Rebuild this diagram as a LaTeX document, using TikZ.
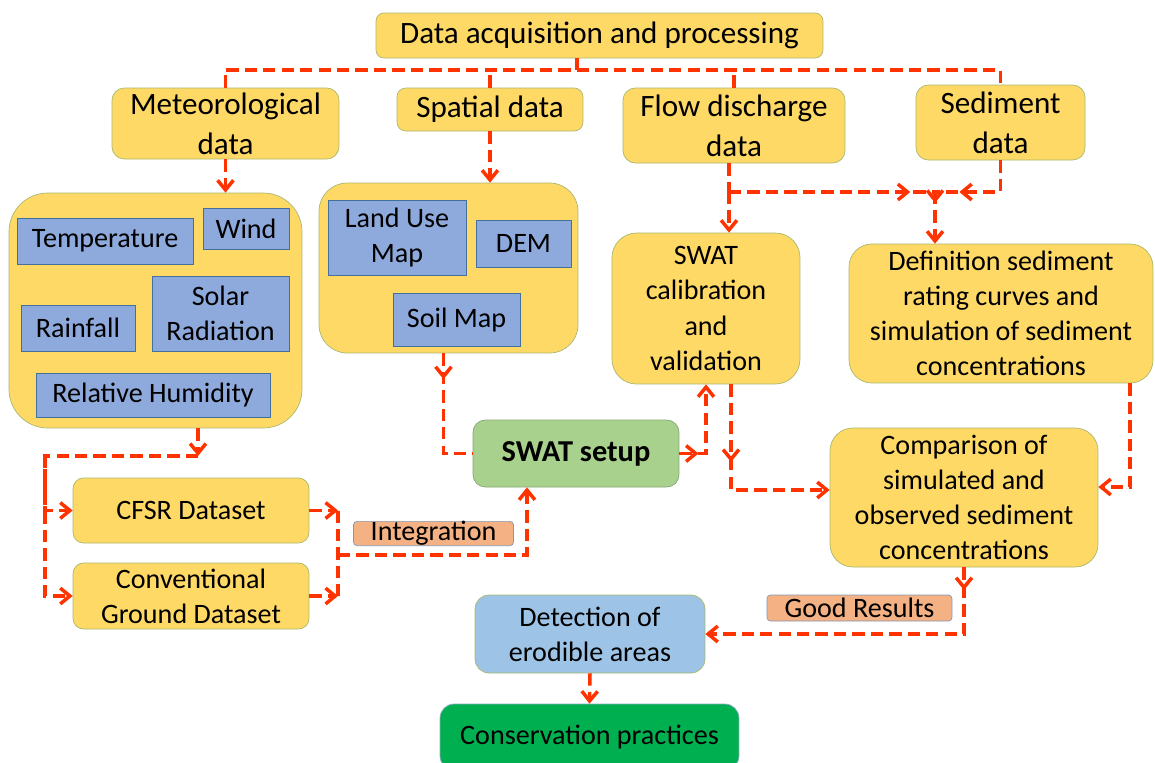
\documentclass[tikz,border=0pt]{standalone}
\usepackage{fontspec}
\setmainfont{Carlito}
\usetikzlibrary{arrows.meta,decorations.markings}

\definecolor{stagefill}{HTML}{FFD966}
\definecolor{stageline}{HTML}{A9B86C}
\definecolor{itemfill}{HTML}{8EA9DB}
\definecolor{itemline}{HTML}{41719C}
\definecolor{setupfill}{HTML}{A9D18E}
\definecolor{detectfill}{HTML}{9DC3E6}
\definecolor{practfill}{HTML}{00B050}
\definecolor{tagfill}{HTML}{F4B183}
\definecolor{tagline}{HTML}{8497B0}
\definecolor{flowred}{HTML}{FF3300}

\tikzset{
  stage/.style={draw=stageline, fill=stagefill, rounded corners=#1, align=center, inner sep=0pt,
                font=\fontsize{16}{20}\selectfont},
  stage/.default=6pt,
  bigstage/.style={stage=#1, font=\fontsize{17.7}{22.7}\selectfont},
  bigstage/.default=6pt,
  item/.style={draw=itemline, fill=itemfill, align=center, inner sep=0pt, font=\fontsize{16}{20}\selectfont},
  tag/.style={draw=tagline, fill=tagfill, rounded corners=2pt, inner sep=0pt, font=\fontsize{16}{20}\selectfont},
  flow/.style={draw=flowred, line width=2pt, dash pattern=on 7pt off 3.5pt},
  arr/.style={-{Straight Barb[length=5.5pt,width=9pt]}},
  midarrow/.style={postaction={decorate},
    decoration={markings, mark=at position #1 with {\arrow{Straight Barb[length=5.5pt,width=9pt]}}}}
}

\begin{document}
\begin{tikzpicture}[x=0.02cm, y=-0.02cm]
  \useasboundingbox (0,0) rectangle (1155,762);
  \clip (0,0) rectangle (1155,762);

  % data sources
  \node[bigstage=4.5pt, minimum width=8.94cm, minimum height=0.9cm] (top) at (599.5,35.5) {Data acquisition and processing};
  \node[bigstage=7pt, minimum width=4.54cm, minimum height=1.42cm] (met) at (225.5,123.5) {Meteorological\\data};
  \node[bigstage=5pt, minimum width=3.72cm, minimum height=0.86cm] (spa) at (490,109.5) {Spatial data};
  \node[bigstage=7pt, minimum width=4.44cm, minimum height=1.5cm] (flow) at (734,125.5) {Flow discharge\\data};
  \node[bigstage=7pt, minimum width=3.38cm, minimum height=1.5cm] (sed) at (1000.5,122.5) {Sediment\\data};

  % meteorological variables
  \node[stage=22pt, minimum width=5.86cm, minimum height=4.7cm] (metbox) at (155.5,310.5) {};
  \node[item, minimum width=3.52cm, minimum height=0.92cm] (temp) at (105,241) {Temperature};
  \node[item, minimum width=1.72cm, minimum height=0.82cm] (wind) at (246,228.5) {Wind};
  \node[item, minimum width=2.74cm, minimum height=1.5cm] (solar) at (220.5,313.5) {Solar\\Radiation};
  \node[item, minimum width=2.28cm, minimum height=0.92cm] (rain) at (78,328) {Rainfall};
  \node[item, minimum width=4.68cm, minimum height=0.88cm] (humid) at (153,395) {Relative Humidity};

  % spatial layers
  \node[stage=16pt, minimum width=5.18cm, minimum height=3.4cm] (spabox) at (448.5,268) {};
  \node[item, minimum width=2.76cm, minimum height=1.5cm] (land) at (397,237.5) {Land Use\\Map};
  \node[item, minimum width=1.9cm, minimum height=0.94cm] (dem) at (523.5,243.5) {DEM};
  \node[item, minimum width=2.54cm, minimum height=1.06cm] (soil) at (456.5,319.5) {Soil Map};

  % modelling steps
  \node[stage=14pt, minimum width=3.76cm, minimum height=3.02cm] (calib) at (706,308.5) {SWAT\\calibration\\and\\validation};
  \node[stage=13pt, minimum width=6.08cm, minimum height=2.78cm] (defn) at (1001,313.5) {Definition sediment\\rating curves and\\simulation of sediment\\concentrations};
  \node[stage=7pt, draw=setupfill!80!black, fill=setupfill, minimum width=4.12cm, minimum height=1.34cm,
        font=\fontsize{17.3}{21}\selectfont\bfseries] (swat) at (576,453.5) {SWAT setup};
  \node[stage=13pt, minimum width=5.36cm, minimum height=2.78cm] (comp) at (964,497.5) {Comparison of\\simulated and\\observed sediment\\concentrations};
  \node[stage=6pt, minimum width=4.72cm, minimum height=1.3cm] (cfsr) at (191,510.5) {CFSR Dataset};
  \node[stage=6pt, minimum width=4.72cm, minimum height=1.32cm] (conv) at (191,596) {Conventional\\Ground Dataset};
  \node[tag, minimum width=3.2cm, minimum height=0.46cm] (integ) at (433.5,533.5) {Integration};
  \node[tag, minimum width=3.7cm, minimum height=0.52cm] (good) at (859.5,608) {Good Results};
  \node[stage=8pt, fill=detectfill, minimum width=4.6cm, minimum height=1.56cm] (detect) at (590,634) {Detection of\\erodible areas};
  \node[stage=8pt, draw=itemline!60, fill=practfill, minimum width=5.98cm, minimum height=1.32cm] (cons) at (589.5,737) {Conservation practices};

  % distribution bus
  \coordinate (jtop) at (577,70);
  \draw[flow] (top.south -| jtop) -- (jtop);
  \draw[flow] (met.north) -- (met.north |- jtop) -- (sed.north |- jtop) -- (sed.north);
  \draw[flow] (spa.north) -- (spa.north |- jtop);
  \draw[flow] (flow.north) -- (flow.north |- jtop);

  \draw[flow, arr] (met.south) -- (met.south |- metbox.north);
  \draw[flow, arr] (spa.south) -- (spa.south |- spabox.north);

  % discharge and sediment
  \coordinate (jflow) at (729,192);
  \coordinate (jsed) at (935,192);
  \draw[flow] (flow.south -| jflow) -- (jflow);
  \draw[flow, arr] (jflow) -- (jflow |- calib.north);
  \draw[flow, midarrow=0.88] (jflow) -- (jsed);
  \draw[flow, midarrow=0.75] (sed.south) |- (jsed);
  \draw[flow, arr, midarrow=0.21] (jsed) -- (jsed |- defn.north);

  % climate datasets
  \coordinate (jmet) at (198,456);
  \coordinate (jleft) at (45,456);
  \draw[flow, arr] (metbox.south -| jmet) -- (jmet);
  \draw[flow, arr] (jmet) -- (jleft) |- (cfsr.west);
  \draw[flow, arr] (jleft) |- (conv.west);

  \coordinate (jint) at (338,555);
  \coordinate (jswat) at (527,555);
  \draw[flow, arr] (cfsr.east) -- (cfsr.east -| jint);
  \draw[flow, arr] (conv.east) -- (conv.east -| jint);
  \draw[flow] (cfsr.east -| jint) -- (conv.east -| jint);
  \draw[flow, arr] (jint) -- (jswat) -- (jswat |- swat.south);

  % model chain
  \draw[flow, midarrow=0.2] ([xshift=-0.1cm]spabox.south) |- (swat.west);
  \draw[flow, arr, midarrow=0.2] (swat.east) -| (calib.south);
  \draw[flow, arr, midarrow=0.38] ([xshift=0.5cm]calib.south) |- ([yshift=0.15cm]comp.west);
  \coordinate (jdef) at (1130,487);
  \draw[flow, arr] (defn.south -| jdef) -- (jdef) -- (jdef -| comp.east);
  \draw[flow, arr, midarrow=0.07] (comp.south) |- (detect.east);
  \draw[flow, arr] (detect.south) -- (cons.north);
\end{tikzpicture}
\end{document}
